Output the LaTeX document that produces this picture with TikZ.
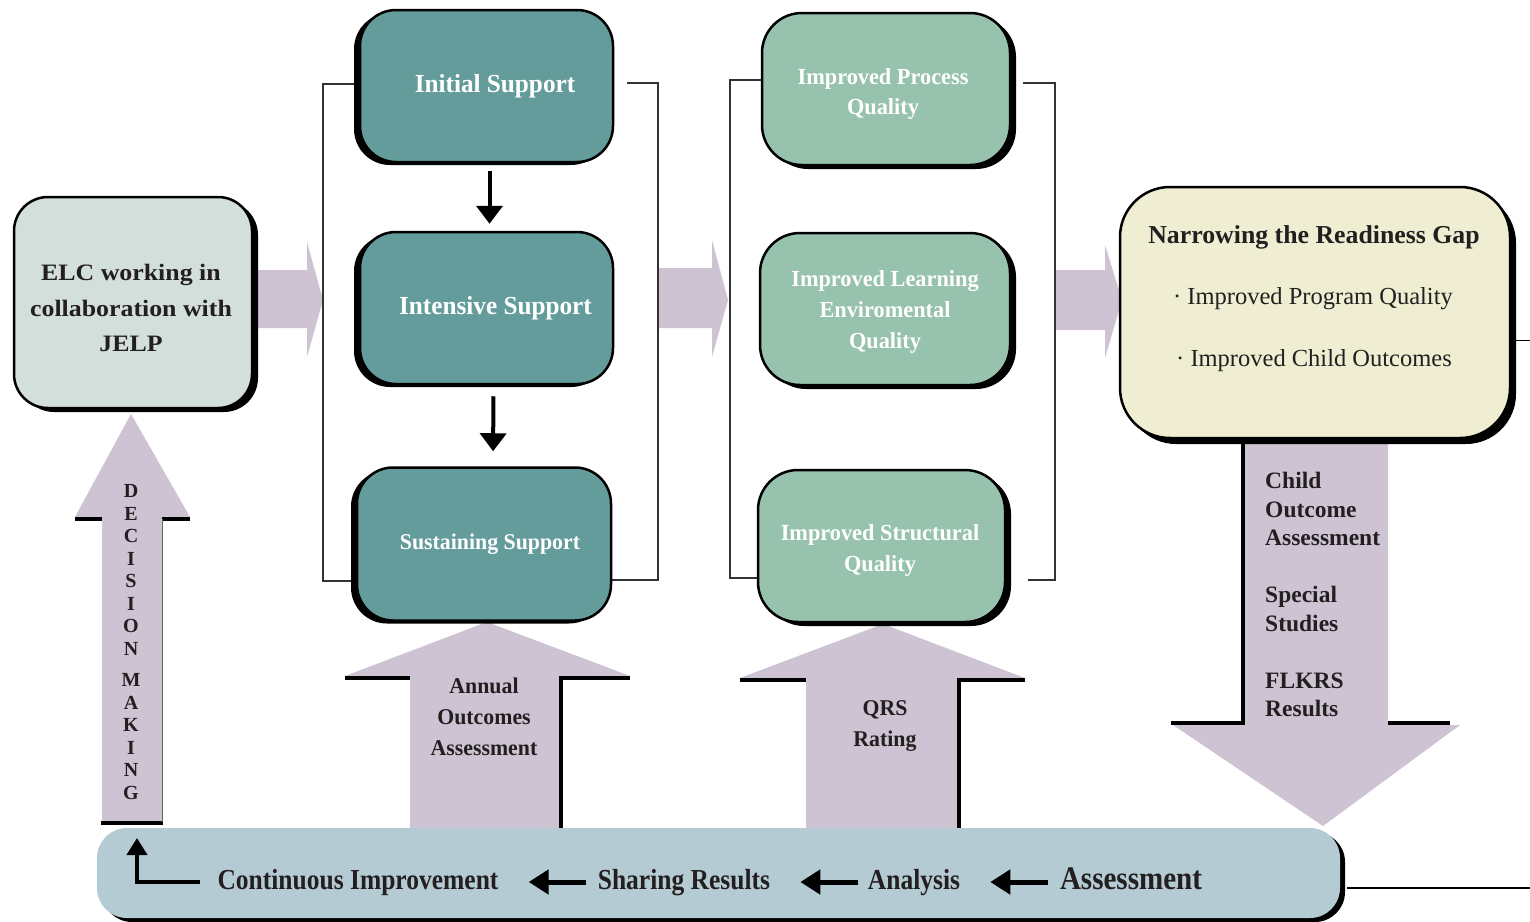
\documentclass[tikz,border=0pt]{standalone}
\usepackage{fontspec}
\setmainfont{Liberation Serif}
\newfontfamily\fELC[FakeStretch=1.1]{Liberation Serif}
\newfontfamily\fSup[FakeStretch=0.97]{Liberation Serif}
\newfontfamily\fBot[FakeStretch=0.88]{Liberation Serif}
\usetikzlibrary{shadows,arrows.meta,calc}
\definecolor{cTeal}{HTML}{649C9C}
\definecolor{cGreen}{HTML}{97C2AD}
\definecolor{cELC}{HTML}{D3DFDB}
\definecolor{cYel}{HTML}{F0EED2}
\definecolor{cBot}{HTML}{B4CBD3}
\definecolor{cLav}{HTML}{CDC3D3}
\definecolor{cTxt}{HTML}{231F20}
\begin{document}
\begin{tikzpicture}[x=1pt,y=-1pt,
  rbox/.style={draw=black, line width=2.5pt, align=center, inner sep=0pt},
  shL/.style={drop shadow={shadow xshift=-6pt, shadow yshift=-3pt, fill=black, opacity=1}},
  shR/.style={drop shadow={shadow xshift=6pt, shadow yshift=-4pt, fill=black, opacity=1}},
  suptxt/.style={text=white, font=\fSup\bfseries\fontsize{26}{30}\selectfont},
  imptxt/.style={text=white, align=center, inner sep=0pt, font=\fSup\bfseries\fontsize{23}{31}\selectfont},
  brk/.style={draw=black!80, line width=1.3pt},
  blk/.style={draw=black, line width=4pt},
  darr/.style={draw=black, line width=4pt, -{Triangle[width=26pt,length=18pt]}},
  barr/.style={draw=black, line width=5pt, -{Triangle[width=24pt,length=20pt]}},
  btxt/.style={font=\fBot\bfseries\fontsize{29}{30}\selectfont, text=cTxt, inner sep=0pt, text height=20pt, text depth=6pt},
  lbl/.style={font=\fSup\bfseries\fontsize{22.5}{31}\selectfont, text=cTxt, align=center, inner sep=0pt}
]
\useasboundingbox (0,0) rectangle (1530,921);
\fill[white] (0,0) rectangle (1530,921);

% ---- block arrows (drawn behind boxes)
\fill[cLav] (252,270) -- (307,270) -- (307,242) -- (323,300) -- (307,357) -- (307,328) -- (252,328) -- cycle;
\fill[cLav] (658,268) -- (712,268) -- (712,240) -- (728,300) -- (712,357) -- (712,328) -- (658,328) -- cycle;
\fill[cLav] (1055,270) -- (1105,270) -- (1105,245) -- (1122,300) -- (1105,358) -- (1105,330) -- (1055,330) -- cycle;

% decision making arrow
\fill[cLav] (102,822) -- (102,517) -- (75,517) -- (131,414) -- (190,517) -- (162,517) -- (162,822) -- cycle;
\draw[blk] (75,519) -- (102,519) (162,519) -- (190,519) (101,823) -- (163,823);
\draw[black!60, line width=1pt] (162,519) -- (162,822);
\node[font=\bfseries\fontsize{20}{22.5}\selectfont, text=cTxt, align=center, inner sep=0pt] (dm) at (131,642)
  {D\\E\\C\\I\\S\\I\\O\\N\\[9pt]M\\A\\K\\I\\N\\G};

% annual outcomes arrow
\fill[cLav] (410,830) -- (410,676) -- (345,676) -- (487,622) -- (630,676) -- (560,676) -- (560,830) -- cycle;
\draw[blk] (345,678) -- (410,678) (560,678) -- (630,678) (561,676) -- (561,830);
\node[lbl] (annual) at (484,717) {Annual\\Outcomes\\Assessment};

% QRS arrow
\fill[cLav] (806,830) -- (806,678) -- (740,678) -- (883,624) -- (1025,678) -- (958,678) -- (958,830) -- cycle;
\draw[blk] (740,680) -- (806,680) (958,680) -- (1025,680) (959,678) -- (959,830);
\node[lbl] (qrs) at (885,726) {QRS\\Rating};

% child outcome arrow (down)
\fill[cLav] (1243,430) -- (1388,430) -- (1388,725) -- (1460,725) -- (1323,826) -- (1173,725) -- (1243,725) -- cycle;
\draw[blk] (1243,438) -- (1243,725) (1171,723) -- (1243,723) (1388,723) -- (1450,723);
\node[font=\bfseries\fontsize{23.5}{28.5}\selectfont, text=cTxt, align=left, inner sep=0pt, anchor=north west] (childtxt) at (1265,472)
  {Child\\Outcome\\Assessment\\[28.5pt]Special\\Studies\\[28.5pt]FLKRS\\Results};

% ---- brackets
\draw[brk] (358,84) -- (323,84) -- (323,581) -- (355,581);
\draw[brk] (627,83) -- (658,83) -- (658,580) -- (612,580);
\draw[brk] (762,80) -- (730,80) -- (730,578) -- (757,578);
\draw[brk] (1023,83) -- (1055,83) -- (1055,580) -- (1028,580);

% ---- boxes
\node[rbox, shR, fill=cELC, rounded corners=34pt, minimum width=238pt, minimum height=211pt] (elc) at (133,302.5) {};
\node[text=cTxt, align=center, inner sep=0pt, font=\fELC\bfseries\fontsize{23.5}{35.5}\selectfont] (elct) at (131,308)
  {ELC working in\\collaboration with\\JELP};

\node[rbox, shL, fill=cTeal, rounded corners=36pt, minimum width=253pt, minimum height=152pt, suptxt] (init) at (486.5,86) {\hspace*{17pt}Initial Support};
\node[rbox, shL, fill=cTeal, rounded corners=36pt, minimum width=253pt, minimum height=152pt, suptxt] (inten) at (486.5,308) {\hspace*{18pt}Intensive Support};
\node[rbox, shL, fill=cTeal, rounded corners=36pt, minimum width=254pt, minimum height=153pt, suptxt,
  font=\fSup\bfseries\fontsize{22.5}{30}\selectfont] (sust) at (484,544) {\hspace*{12pt}Sustaining Support};

\draw[darr, shorten <=8pt, shorten >=7pt] ([xshift=3pt]init.south) -- ([xshift=3pt]inten.north);
\draw[darr, shorten <=11pt, shorten >=15pt] ([xshift=7pt]inten.south) -- ([xshift=9pt]sust.north);

\node[rbox, shR, fill=cGreen, rounded corners=40pt, minimum width=248pt, minimum height=152pt] (proc) at (886,89) {};
\node[imptxt] (proct) at (883,94) {Improved Process\\Quality};
\node[rbox, shR, fill=cGreen, rounded corners=40pt, minimum width=250pt, minimum height=152pt] (learn) at (885,309) {};
\node[imptxt] (learnt) at (885,312) {Improved Learning\\Enviromental\\Quality};
\node[rbox, shR, fill=cGreen, rounded corners=40pt, minimum width=247pt, minimum height=152pt] (struct) at (881.5,546) {};
\node[imptxt] (structt) at (880,550) {Improved Structural\\Quality};

\node[rbox, drop shadow={shadow xshift=6pt, shadow yshift=-6pt, fill=black, opacity=1}, fill=cYel, rounded corners=50pt,
  minimum width=390pt, minimum height=251pt] (narrow) at (1315,312.5) {};
\node[font=\bfseries\fontsize{25.8}{30}\selectfont, text=cTxt, inner sep=0pt] (nt1) at (1314,237) {Narrowing the Readiness Gap};
\node[font=\fontsize{24.5}{30}\selectfont, text=cTxt, inner sep=0pt] (nt2) at (1313,299) {· Improved Program Quality};
\node[font=\fontsize{24.5}{30}\selectfont, text=cTxt, inner sep=0pt] (nt3) at (1314,361) {· Improved Child Outcomes};
\draw[line width=1.5pt] ([xshift=5pt,yshift=-28pt]narrow.east) -- (1530,340.5);

% ---- bottom bar
\node[rbox, drop shadow={shadow xshift=5pt, shadow yshift=-4pt, fill=black, opacity=1}, draw=none, fill=cBot, rounded corners=30pt,
  minimum width=1243pt, minimum height=90pt] (bottom) at (718.5,873) {};
\draw[line width=1.5pt] ([xshift=6pt,yshift=-15pt]bottom.east) -- (1530,888);

\node[btxt] (cont) at (358,882) {Continuous Improvement};
\node[btxt] (share) at (684,882) {Sharing Results};
\node[btxt] (anal) at (914,882) {Analysis};
\node[btxt, font=\fBot\bfseries\fontsize{33}{34}\selectfont] (assess) at (1131,882) {Assessment};

\draw[barr, shorten <=12pt, shorten >=30pt] (share.west) -- (cont.east);
\draw[barr, shorten <=10pt, shorten >=30pt] (anal.west) -- (share.east);
\draw[barr, shorten <=12pt, shorten >=30pt] (assess.west) -- (anal.east);

\coordinate (ci) at (137,838);
\draw[draw=black, line width=4pt, -{Triangle[width=20pt,length=17pt]}] ([xshift=-17pt]cont.west) -| (ci);
\end{tikzpicture}
\end{document}
